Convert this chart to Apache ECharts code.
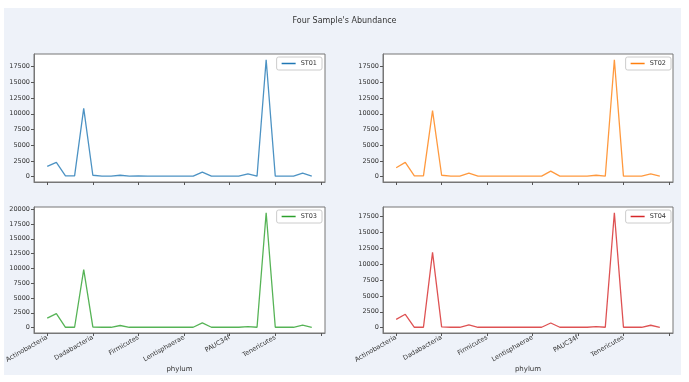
<!DOCTYPE html>
<html>
<head>
<meta charset="utf-8">
<script src="https://cdn.jsdelivr.net/npm/echarts@6/dist/echarts.min.js"></script>
<style>html,body{margin:0;padding:0;background:#fff}#c{width:689px;height:382px}</style>
</head>
<body>
<div id="c"></div>
<script>
const categories = ["Actinobacteria","Bacteroidetes","Calditrichaeota","Chloroflexi","Cyanobacteria",
  "Dadabacteria","Deinococcus-Thermus","Elusimicrobia","Epsilonbacteraeota","Euryarchaeota",
  "Firmicutes","Fusobacteria","Gemmatimonadetes","Hydrogenedentes","Kiritimatiellaeota",
  "Lentisphaerae","Marinimicrobia","Nitrospinae","Nitrospirae","Omnitrophicaeota",
  "PAUC34f","Patescibacteria","Planctomycetes","Poribacteria","Proteobacteria",
  "Tenericutes","Thaumarchaeota","Thermotogae","Verrucomicrobia","Zixibacteria"];
const seriesNames = ["ST01","ST02","ST03","ST04"];
const st01 = [1600,2250,100,100,10850,200,50,50,200,50,100,50,50,50,50,50,50,700,50,50,50,50,400,50,18600,50,50,50,550,50];
const st02 = [1400,2250,100,100,10500,200,50,50,550,50,50,50,50,50,50,50,50,850,50,50,50,50,200,50,18600,50,50,50,400,50];
const st03 = [1600,2350,50,50,9780,100,50,50,350,50,50,50,50,50,50,50,50,780,50,50,50,50,170,50,19400,50,50,50,400,50];
const st04 = [1300,2100,50,50,11860,100,50,50,420,50,50,50,50,50,50,50,50,730,50,50,50,50,160,50,18130,50,50,50,370,50];
const yTicksA = [0,2500,5000,7500,10000,12500,15000,17500];
const yTicksB = [0,2500,5000,7500,10000,12500,15000,17500,20000];
const xTickIdx = [0,5,10,15,20,25,30];

const allData = [st01, st02, st03, st04];
const colors = ['#1f77b4','#ff7f0e','#2ca02c','#d62728'];
const grids = [
  {left:34, top:54, width:291, height:128},
  {left:383, top:54, width:290, height:128},
  {left:34, top:207, width:291, height:126},
  {left:383, top:207, width:290, height:126}
];
const yTicks = [yTicksA, yTicksA, yTicksB, yTicksA];
const n = categories.length;
const xPad = 0.05*(n-1);

const option = {
  animation:false,
  backgroundColor:'#ffffff',
  graphic:[{type:'rect', shape:{x:4,y:8,width:677,height:367}, style:{fill:'#eef2f9'}, z:-10}],
  title:{text:"Four Sample's Abundance", left:'center', top:12,
    textStyle:{fontSize:8, fontWeight:'normal', color:'#333', fontFamily:'DejaVu Sans'}},
  grid: grids.map(g => Object.assign({show:true, backgroundColor:'#ffffff', borderColor:'#777', borderWidth:1}, g)),
  legend: seriesNames.map((s,i) => ({
    data:[s],
    right: i%2===0 ? 367 : 18,
    top: grids[i].top + 3,
    orient:'vertical',
    backgroundColor:'#ffffff', borderColor:'#ccc', borderWidth:1, borderRadius:2,
    padding:[3,5,3,5], itemWidth:14, itemHeight:1.5, itemGap:4, icon:'rect',
    textStyle:{fontSize:6.5, color:'#333', fontFamily:'DejaVu Sans'}
  })),
  xAxis: grids.map((g,i) => ({
    type:'value', gridIndex:i, min:-xPad, max:(n-1)+xPad, position:'bottom',
    splitLine:{show:false}, axisLine:{show:true, onZero:false, lineStyle:{color:'#777', width:1}},
    axisTick:{show:true, inside:false, length:3, lineStyle:{color:'#555'}, customValues:xTickIdx},
    axisLabel:{show: i>=2, customValues:xTickIdx, rotate:30, fontSize:6.5, color:'#333', margin:4,
      fontFamily:'DejaVu Sans',
      formatter: v => (categories[Math.round(v)] !== undefined ? categories[Math.round(v)] : '')},
    name: i>=2 ? 'phylum' : '', nameLocation:'middle', nameGap:33,
    nameTextStyle:{fontSize:7, color:'#333', fontFamily:'DejaVu Sans'}
  })),
  yAxis: grids.map((g,i) => {
    const d = allData[i];
    const lo = Math.min(...d), hi = Math.max(...d);
    const pad = 0.05*(hi-lo);
    return {
      type:'value', gridIndex:i, min:lo-pad, max:hi+pad, position:'left',
      splitLine:{show:false}, axisLine:{show:true, onZero:false, lineStyle:{color:'#777', width:1}},
      axisTick:{show:true, inside:false, length:3, lineStyle:{color:'#555'}, customValues:yTicks[i]},
      axisLabel:{customValues:yTicks[i], fontSize:6.5, color:'#333', margin:4, fontFamily:'DejaVu Sans',
        formatter: v => String(v)}
    };
  }),
  series: seriesNames.map((s,i) => ({
    name:s, type:'line', xAxisIndex:i, yAxisIndex:i,
    data: allData[i].map((v,k) => [k, v]),
    symbol:'none', lineStyle:{width:1.3, color:colors[i], opacity:0.8}, itemStyle:{color:colors[i]}
  }))
};
const chart = echarts.init(document.getElementById('c'), null, {renderer:'canvas'});
chart.setOption(option);
</script>
</body>
</html>
